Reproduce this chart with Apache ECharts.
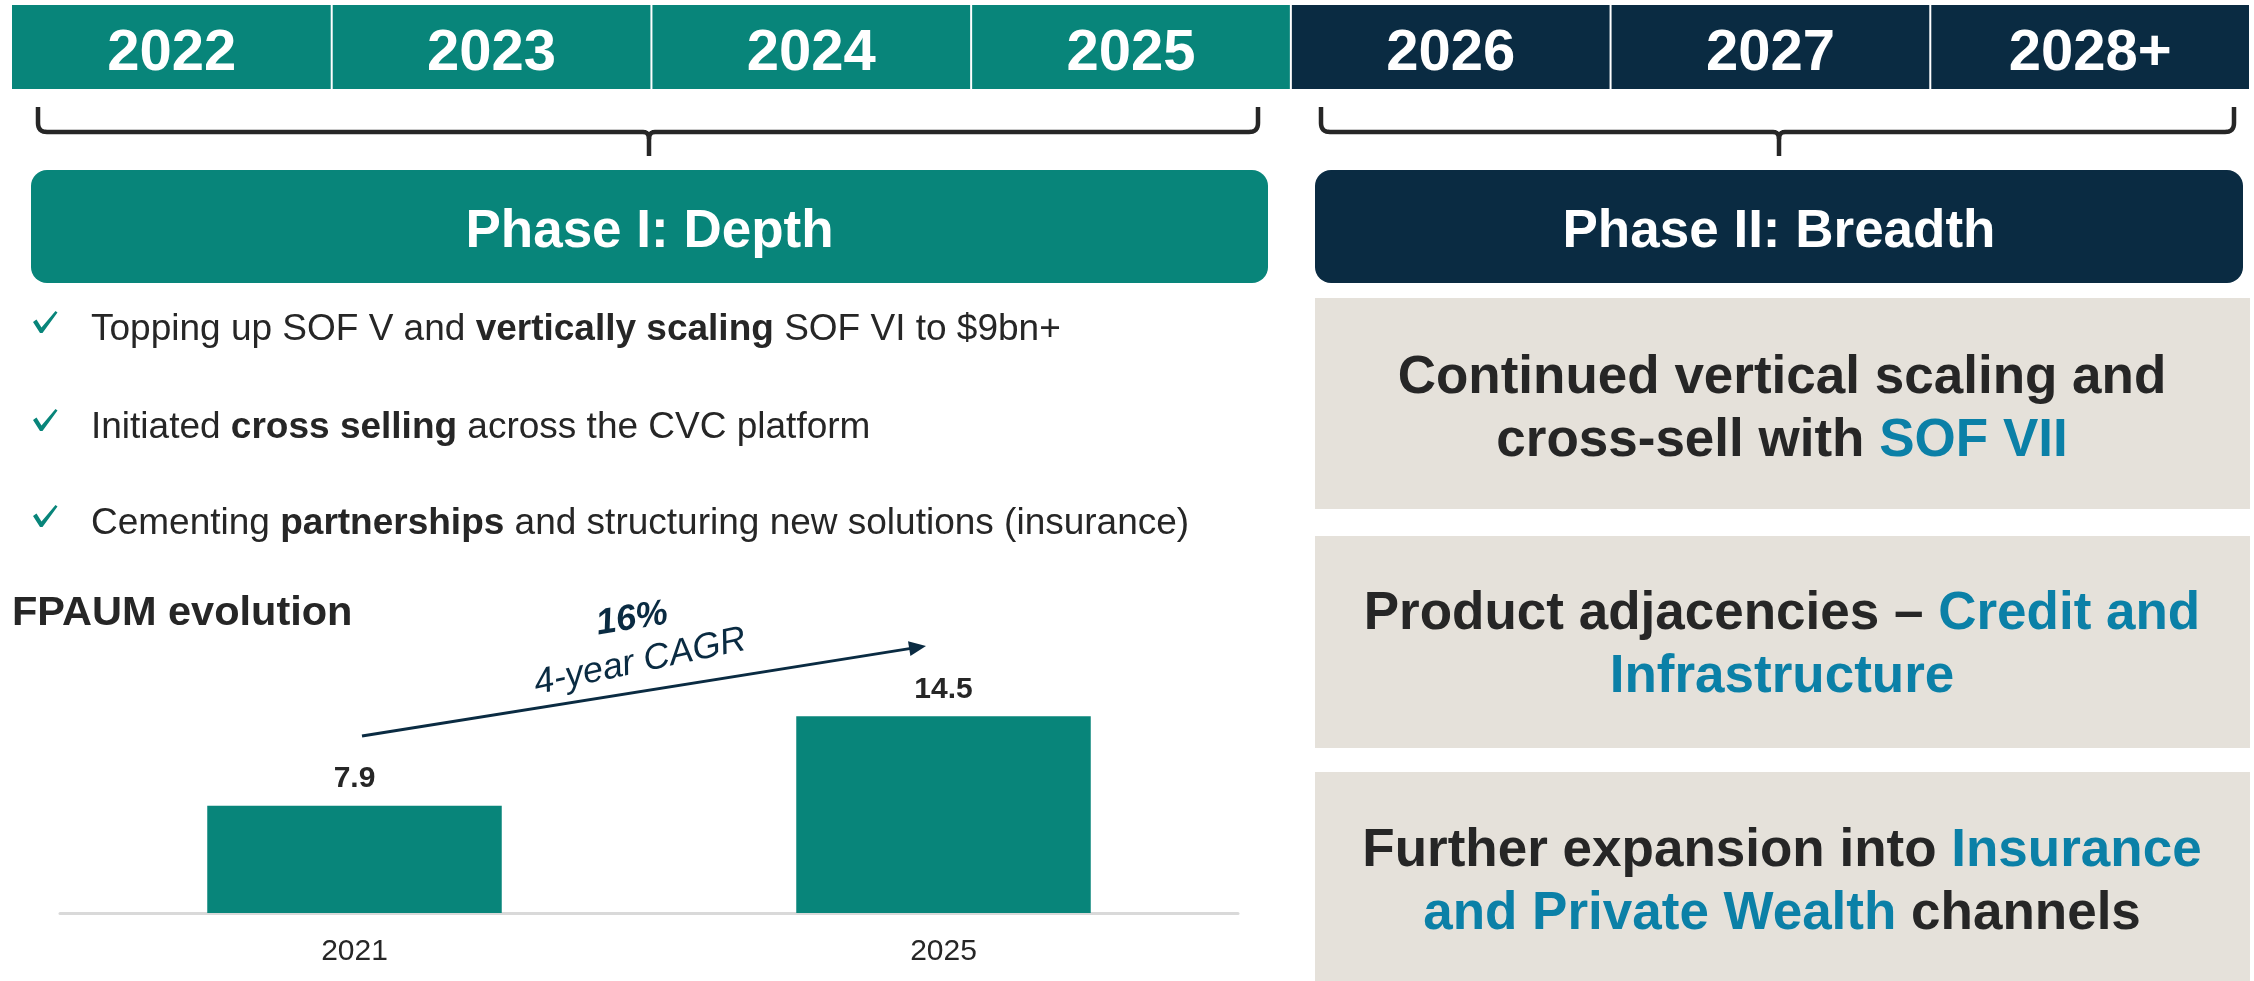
<!DOCTYPE html>
<html>
<head>
<meta charset="utf-8">
<script src="https://cdn.jsdelivr.net/npm/echarts@6/dist/echarts.min.js"></script>
<style>html,body{margin:0;padding:0;background:#fff;}#main{width:2254px;height:981px;}</style>
</head>
<body>
<div id="main"></div>
<script>
// ---------- data ----------
const years = ['2022', '2023', '2024', '2025', '2026', '2027', '2028+'];
const phaseOfYear = [0, 0, 0, 0, 1, 1, 1];
const phaseLabels = ['Phase I: Depth', 'Phase II: Breadth'];
const achievements = [
  'Topping up SOF V and {b|vertically scaling} SOF VI to $9bn+',
  'Initiated {b|cross selling} across the CVC platform',
  'Cementing {b|partnerships} and structuring new solutions (insurance)'
];
const chartTitle = 'FPAUM evolution';
const categories = ['2021', '2025'];
const fpaum = [7.9, 14.5];
const cagrValue = '16%';
const cagrLabel = '4-year CAGR';
const priorities = [
  'Continued vertical scaling and\ncross-sell with {c|SOF VII}',
  'Product adjacencies \u2013 {c|Credit and}\n{c|Infrastructure}',
  'Further expansion into {c|Insurance}\n{c|and Private Wealth} channels'
];

// ---------- styles ----------
const FONT = "'Liberation Sans', Arial, Helvetica, sans-serif";
const TEAL = '#08857A';
const NAVY = '#0A2B42';
const INK = '#262626';
const BLUE = '#0B80A7';
const BEIGE = '#E5E1DA';
const phaseColors = [TEAL, NAVY];
const DY = 4; // baseline correction for middle-aligned text

const graphic = [];

// year cells
const cellX0 = 12, cellX1 = 2250, cellY = 5, cellH = 84;
const cw = (cellX1 - cellX0) / years.length;
years.forEach((yr, i) => {
  graphic.push({
    type: 'rect',
    shape: { x: cellX0 + i * cw + (i ? 1 : 0), y: cellY, width: cw - (i ? 2 : 1), height: cellH },
    style: { fill: phaseColors[phaseOfYear[i]] }
  });
  graphic.push({
    type: 'text', x: cellX0 + i * cw + cw / 2, y: 50 + DY,
    style: { text: yr, x: 0, y: 0, align: 'center', verticalAlign: 'middle',
      fontSize: 58, fontWeight: 'bold', fontFamily: FONT, fill: '#fff' }
  });
});

// braces (polyline with rounded corners)
function quad(p0, p1, p2, n) {
  const pts = [];
  for (let k = 1; k <= n; k++) {
    const t = k / n, u = 1 - t;
    pts.push([u * u * p0[0] + 2 * u * t * p1[0] + t * t * p2[0], u * u * p0[1] + 2 * u * t * p1[1] + t * t * p2[1]]);
  }
  return pts;
}
function bracePolylines(x1, x2, cx) {
  const t = 107, h = 132, b = 156, r = 9;
  let left = [[x1, t], [x1, h - r]];
  left = left.concat(quad([x1, h - r], [x1, h], [x1 + r, h], 8));
  left.push([cx - 6, h]);
  left = left.concat(quad([cx - 6, h], [cx, h], [cx, h + 7], 6));
  left.push([cx, b]);
  let right = [[x2, t], [x2, h - r]];
  right = right.concat(quad([x2, h - r], [x2, h], [x2 - r, h], 8));
  right.push([cx + 6, h]);
  right = right.concat(quad([cx + 6, h], [cx, h], [cx, h + 7], 6));
  return [left, right];
}
[[38, 1258, 649], [1321, 2234, 1779]].forEach(bz => {
  bracePolylines(bz[0], bz[1], bz[2]).forEach(pts => {
    graphic.push({ type: 'polyline', shape: { points: pts },
      style: { fill: null, stroke: INK, lineWidth: 4.5, lineJoin: 'round' } });
  });
});

// phase boxes
[[31, 1268], [1315, 2243]].forEach((bx, i) => {
  graphic.push({ type: 'rect', shape: { x: bx[0], y: 170, width: bx[1] - bx[0], height: 113, r: 16 },
    style: { fill: phaseColors[i] } });
  graphic.push({ type: 'text', x: (bx[0] + bx[1]) / 2, y: 228 + DY,
    style: { text: phaseLabels[i], x: 0, y: 0, align: 'center', verticalAlign: 'middle',
      fontSize: 53, fontWeight: 'bold', fontFamily: FONT, fill: '#fff' } });
});

// achievements list
const listY = [326, 424, 520];
achievements.forEach((t, i) => {
  const y = listY[i];
  const cy = y - 4;
  graphic.push({ type: 'polygon',
    shape: { points: [[33, cy], [36.5, cy - 2.5], [41.5, cy + 5.5], [55.5, cy - 11], [57.5, cy - 9.5], [42.5, cy + 11], [40, cy + 11]] },
    style: { fill: TEAL } });
  graphic.push({ type: 'text', x: 91, y: y + DY,
    style: { text: t, x: 0, y: 0, align: 'left', verticalAlign: 'middle',
      fontSize: 37, fontFamily: FONT, fill: INK,
      rich: { b: { fontSize: 37, fontFamily: FONT, fontWeight: 'bold', fill: INK } } } });
});

// chart title
graphic.push({ type: 'text', x: 12, y: 610 + DY,
  style: { text: chartTitle, x: 0, y: 0, align: 'left', verticalAlign: 'middle',
    fontSize: 41.5, fontWeight: 'bold', fontFamily: FONT, fill: INK } });

// CAGR arrow
const ax1 = 362, ay1 = 736, ax2 = 926, ay2 = 646;
const len = Math.hypot(ax2 - ax1, ay2 - ay1);
const dx = (ax2 - ax1) / len, dy = (ay2 - ay1) / len;
const px = -dy, py = dx;
const hl = 17, hw = 7.5;
graphic.push({ type: 'line', shape: { x1: ax1, y1: ay1, x2: ax2 - dx * hl * 0.8, y2: ay2 - dy * hl * 0.8 },
  style: { stroke: NAVY, lineWidth: 3 } });
graphic.push({ type: 'polygon',
  shape: { points: [[ax2, ay2], [ax2 - dx * hl + px * hw, ay2 - dy * hl + py * hw], [ax2 - dx * hl - px * hw, ay2 - dy * hl - py * hw]] },
  style: { fill: NAVY } });
graphic.push({ type: 'text', x: 632, y: 615 + DY, rotation: 9 * Math.PI / 180,
  style: { text: cagrValue, x: 0, y: 0, align: 'center', verticalAlign: 'middle',
    fontSize: 36, fontWeight: 'bold', fontStyle: 'italic', fontFamily: FONT, fill: NAVY } });
graphic.push({ type: 'text', x: 640, y: 658 + DY, rotation: 12 * Math.PI / 180,
  style: { text: cagrLabel, x: 0, y: 0, align: 'center', verticalAlign: 'middle',
    fontSize: 36, fontStyle: 'italic', fontFamily: FONT, fill: NAVY } });

// priority boxes
const boxes = [[298, 509, 406], [536, 748, 642], [772, 990, 879]];
priorities.forEach((t, i) => {
  const bx = boxes[i];
  graphic.push({ type: 'rect', shape: { x: 1315, y: bx[0], width: 2250 - 1315, height: bx[1] - bx[0] },
    style: { fill: BEIGE } });
  graphic.push({ type: 'text', x: 1782, y: bx[2] + DY,
    style: { text: t, x: 0, y: 0, align: 'center', verticalAlign: 'middle',
      fontSize: 53, fontWeight: 'bold', fontFamily: FONT, fill: INK, lineHeight: 63,
      rich: { c: { fontSize: 53, fontWeight: 'bold', fontFamily: FONT, fill: BLUE, lineHeight: 63 } } } });
});

const chart = echarts.init(document.getElementById('main'), null, { renderer: 'canvas' });
const axisY = 913, pxPerUnit = 13.57, yMax = 20;
chart.setOption({
  animation: false,
  backgroundColor: '#fff',
  grid: { left: 60, right: 2254 - 1238, top: axisY - yMax * pxPerUnit, bottom: 981 - axisY },
  xAxis: {
    type: 'category', data: categories,
    axisLine: { lineStyle: { color: '#D9D9D9', width: 3 } },
    axisTick: { show: false },
    axisLabel: { fontSize: 30, color: INK, fontFamily: FONT, margin: 24 }
  },
  yAxis: { type: 'value', min: 0, max: yMax, show: false, splitLine: { show: false } },
  series: [{
    type: 'bar', data: fpaum, barWidth: '50%',
    itemStyle: { color: TEAL },
    label: { show: true, position: 'top', distance: 12, fontSize: 30, fontWeight: 'bold',
      color: INK, fontFamily: FONT, formatter: p => p.value.toFixed(1) }
  }],
  graphic: graphic
});
</script>
</body>
</html>
